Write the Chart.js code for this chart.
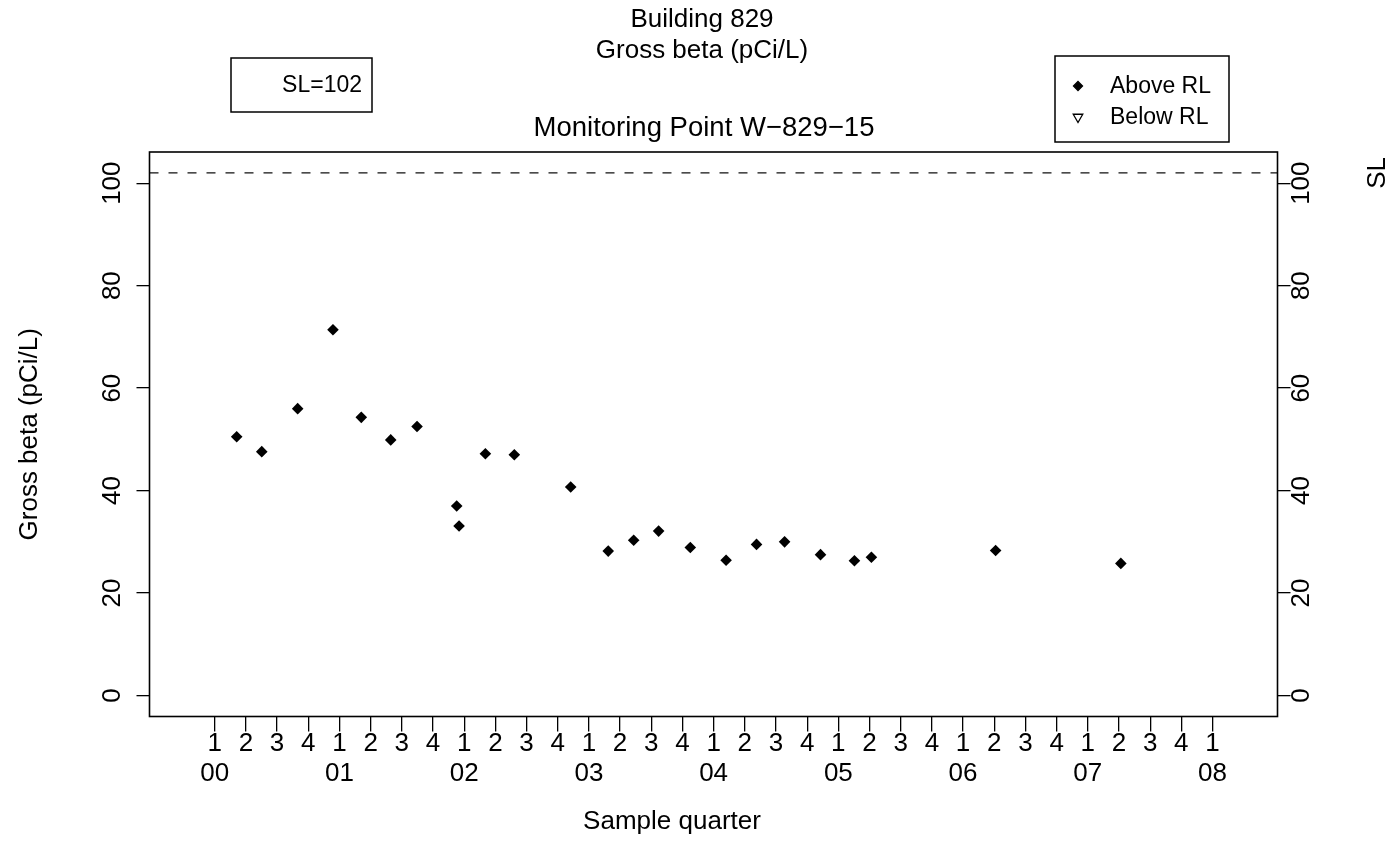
<!DOCTYPE html>
<html>
<head>
<meta charset="utf-8">
<title>Building 829 – Gross beta</title>
<script src="https://cdn.jsdelivr.net/npm/chart.js@4.4.1/dist/chart.umd.min.js"></script>
<style>
  html, body { margin: 0; padding: 0; background: #ffffff; }
  #wrap { width: 1398px; height: 867px; position: relative; }
  canvas { display: block; }
</style>
</head>
<body>
<div id="wrap"><canvas id="chart" width="1398" height="867"></canvas></div>
<script>
// ---- data -------------------------------------------------------------
// Sample dates as decimal years (2000.0 = first quarter of 2000)
const sampleTimes = [
  2000.176, 2000.377, 2000.665, 2000.948, 2001.175, 2001.411, 2001.622,
  2001.940, 2001.959, 2002.170, 2002.402, 2002.854, 2003.155, 2003.359,
  2003.559, 2003.813, 2004.100, 2004.344, 2004.569, 2004.857, 2005.129,
  2005.265, 2006.261, 2007.265
];
// Gross beta results, pCi/L (all above the reporting limit)
const grossBeta = [
  50.5, 47.6, 56.0, 71.4, 54.3, 49.9, 52.5,
  37.0, 33.1, 47.2, 47.0, 40.7, 28.2, 30.3,
  32.1, 28.9, 26.4, 29.5, 30.0, 27.5, 26.3,
  27.0, 28.3, 25.8
];
// Results below the reporting limit (none for this well)
const belowTimes = [];
const belowValues = [];

const quarterLabels = ['1', '2', '3', '4'];
const yearLabels = ['00', '01', '02', '03', '04', '05', '06', '07', '08'];
const firstYear = 2000;
const yTickValues = [0, 20, 40, 60, 80, 100];
const SL_VALUE = 102;
const xRange = [1999.477, 2008.521];
const yRange = [-4.08, 106.08];

// ---- derived tables ---------------------------------------------------
const quarterTicks = [];
yearLabels.forEach((_, yi) => {
  for (let q = 0; q < 4; q++) {
    if (yi === yearLabels.length - 1 && q > 0) break;
    quarterTicks.push(firstYear + yi + q / 4);
  }
});
const aboveRL = sampleTimes.map((t, i) => ({ x: t, y: grossBeta[i] }));
const belowRL = belowTimes.map((t, i) => ({ x: t, y: belowValues[i] }));

const FONT = '"Liberation Sans", Arial, Helvetica, sans-serif';
Chart.defaults.font.family = FONT;
Chart.defaults.color = '#000';

function quarterLabel(value) {
  const idx = Math.round((value - firstYear) * 4);
  const q = idx % 4;
  const y = Math.floor(idx / 4);
  return q === 0 ? [quarterLabels[0], yearLabels[y]] : quarterLabels[q];
}

const tickGrid = (len) => ({
  drawOnChartArea: false, drawTicks: true, tickLength: len,
  color: '#000', lineWidth: 1.3
});

// Frame, SL line, titles, rotated y labels and the two boxed keys
const decorations = {
  id: 'decorations',
  beforeDatasetsDraw(chart) {
    const { ctx, chartArea: a, scales } = chart;
    const ySL = scales.y.getPixelForValue(SL_VALUE);
    ctx.save();
    ctx.strokeStyle = '#111';
    ctx.lineWidth = 1.3;
    ctx.setLineDash([9, 10]);
    ctx.beginPath();
    ctx.moveTo(a.left, ySL);
    ctx.lineTo(a.right, ySL);
    ctx.stroke();
    ctx.restore();
  },
  afterDraw(chart) {
    const { ctx, chartArea: a, scales } = chart;
    ctx.save();
    // plot frame
    ctx.strokeStyle = '#000';
    ctx.lineWidth = 1.6;
    ctx.setLineDash([]);
    ctx.strokeRect(a.left, a.top, a.right - a.left, a.bottom - a.top);

    ctx.fillStyle = '#000';
    ctx.textAlign = 'center';
    ctx.textBaseline = 'middle';
    ctx.font = '26px ' + FONT;
    const cx = 702;
    ctx.fillText('Building 829', cx, 20);
    ctx.fillText('Gross beta (pCi/L)', cx, 51);
    ctx.fillText('Sample quarter', 672, 822);
    ctx.font = '27.5px ' + FONT;
    ctx.fillText('Monitoring Point W\u2212829\u221215', 704, 128);
    ctx.font = '26px ' + FONT;

    const vtext = (txt, x, y) => {
      ctx.save();
      ctx.translate(x, y);
      ctx.rotate(-Math.PI / 2);
      ctx.fillText(txt, 0, 0);
      ctx.restore();
    };
    vtext('Gross beta (pCi/L)', 30, (a.top + a.bottom) / 2);
    yTickValues.forEach(v => {
      const py = scales.y.getPixelForValue(v);
      vtext(String(v), 113, py);
      vtext(String(v), 1302, py);
    });
    vtext('SL', 1378, scales.y.getPixelForValue(SL_VALUE));

    // SL key box
    ctx.lineWidth = 1.5;
    ctx.strokeRect(231, 58, 141, 54);
    ctx.font = '23px ' + FONT;
    ctx.textAlign = 'right';
    ctx.fillText('SL=' + SL_VALUE, 362, 86);

    // symbol key box
    ctx.strokeRect(1055, 56, 174, 86);
    ctx.textAlign = 'left';
    const ds = chart.data.datasets;
    const keyY = [86, 117];
    ds.forEach((d, i) => {
      ctx.fillStyle = d.backgroundColor;
      ctx.strokeStyle = d.borderColor;
      ctx.lineWidth = 1.3;
      Chart.helpers.drawPoint(ctx, {
        pointStyle: d.pointStyle, rotation: d.rotation || 0,
        radius: i === 0 ? 4.5 : 5.5, borderWidth: 1.3
      }, 1078, keyY[i]);
      ctx.fillStyle = '#000';
      ctx.fillText(d.label, 1110, keyY[i] + 1);
    });
    ctx.restore();
  }
};

new Chart(document.getElementById('chart'), {
  type: 'scatter',
  data: {
    datasets: [
      {
        label: 'Above RL', data: aboveRL,
        pointStyle: 'rectRot', pointRadius: 5.8, pointHoverRadius: 5.8,
        backgroundColor: '#000', borderColor: '#000', borderWidth: 0
      },
      {
        label: 'Below RL', data: belowRL,
        pointStyle: 'triangle', rotation: 180, pointRadius: 6,
        backgroundColor: 'rgba(0,0,0,0)', borderColor: '#000', borderWidth: 1.3
      }
    ]
  },
  options: {
    responsive: false,
    animation: false,
    devicePixelRatio: 1,
    events: [],
    layout: { padding: { top: 152, left: 0, right: 0, bottom: 0 } },
    plugins: { legend: { display: false }, tooltip: { enabled: false } },
    scales: {
      x: {
        type: 'linear', position: 'bottom',
        min: xRange[0], max: xRange[1],
        afterBuildTicks: s => { s.ticks = quarterTicks.map(v => ({ value: v })); },
        afterFit: s => { s.height = 867 - 716.5; },
        grid: tickGrid(15),
        border: { display: false },
        ticks: {
          autoSkip: false, maxRotation: 0, minRotation: 0, padding: -3,
          color: '#000', font: { size: 26, lineHeight: 1.154 },
          callback: v => quarterLabel(v)
        }
      },
      y: {
        type: 'linear', position: 'left',
        min: yRange[0], max: yRange[1],
        afterBuildTicks: s => { s.ticks = yTickValues.map(v => ({ value: v })); },
        afterFit: s => { s.width = 149.5; },
        grid: tickGrid(13),
        border: { display: false },
        ticks: { display: false }
      },
      y2: {
        type: 'linear', position: 'right',
        min: yRange[0], max: yRange[1],
        afterBuildTicks: s => { s.ticks = yTickValues.map(v => ({ value: v })); },
        afterFit: s => { s.width = 1398 - 1277.5; },
        grid: tickGrid(13),
        border: { display: false },
        ticks: { display: false }
      }
    }
  },
  plugins: [decorations]
});
</script>
</body>
</html>
